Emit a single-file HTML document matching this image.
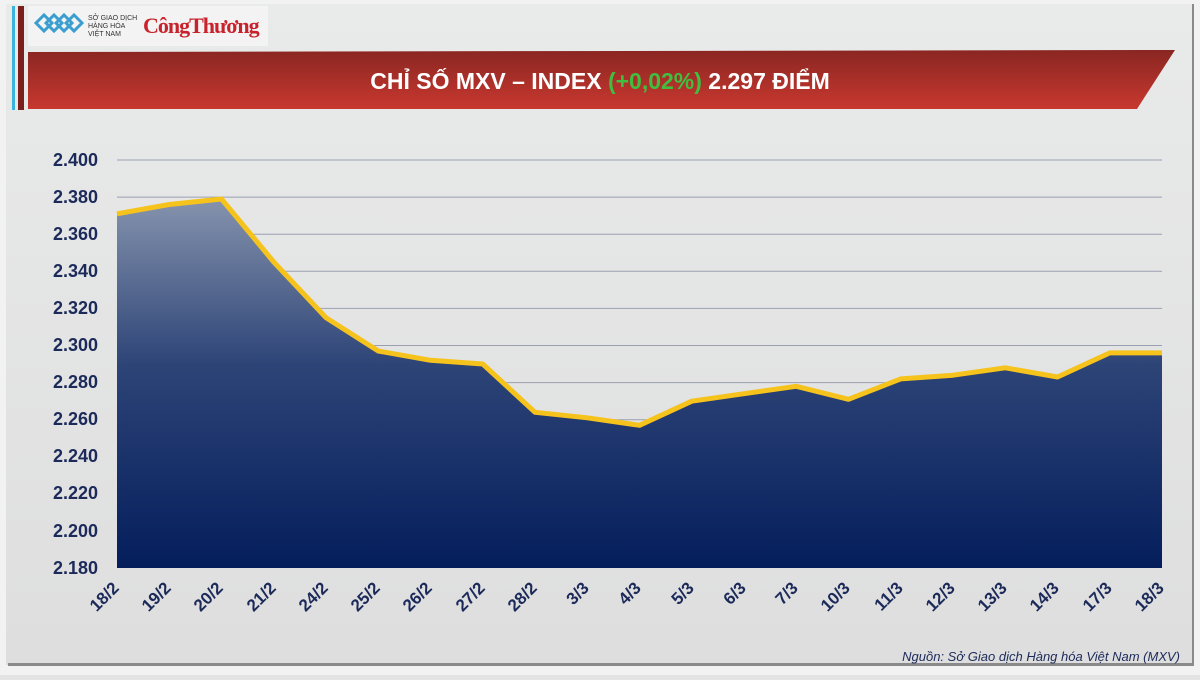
<!DOCTYPE html>
<html><head><meta charset="utf-8"><style>
body{margin:0;width:1200px;height:675px;overflow:hidden;background:#e4e4e4;font-family:"Liberation Sans","DejaVu Sans",sans-serif}
</style></head><body>
<svg width="1200" height="675" xmlns="http://www.w3.org/2000/svg">
<defs>
<linearGradient id="bg" x1="0" y1="0" x2="0" y2="1"><stop offset="0" stop-color="#e9eaea"/><stop offset="1" stop-color="#dedede"/></linearGradient>
<linearGradient id="red" x1="0" y1="0" x2="0" y2="1"><stop offset="0" stop-color="#8a2622"/><stop offset="1" stop-color="#c8382f"/></linearGradient>
<linearGradient id="area" x1="0" y1="0" x2="0" y2="1"><stop offset="0" stop-color="#8593ad"/><stop offset="0.45" stop-color="#2d4477"/><stop offset="1" stop-color="#041e5c"/></linearGradient>
</defs>
<rect width="1200" height="675" fill="#f2f2f2"/>
<rect x="6" y="4" width="1188" height="661" fill="url(#bg)"/>
<rect x="8" y="663" width="1186" height="3" fill="#8a8a8a"/>
<rect x="1192" y="4" width="2" height="661" fill="#8a8a8a"/>
<rect x="12" y="6" width="3" height="104" fill="#3bb3dd"/>
<rect x="18" y="6" width="6" height="104" fill="#7a1f1c"/>
<rect x="28" y="6" width="240" height="40" fill="#f3f3f3"/>
<g fill="none" stroke="#3a9fd0" stroke-width="3"><path d="M36 23 l8-8 8 8-8 8z M46 23 l8-8 8 8-8 8z M56 23 l8-8 8 8-8 8z M66 23 l8-8 8 8-8 8z"/></g>
<text x="88" y="20" font-size="7" fill="#333">SỞ GIAO DỊCH</text>
<text x="88" y="28" font-size="7" fill="#333">HÀNG HÓA</text>
<text x="88" y="36" font-size="7" fill="#333">VIỆT NAM</text>
<text x="143" y="33" font-size="22" fill="#c8232c" font-family="Liberation Serif,serif" font-weight="bold" letter-spacing="-1">CôngThương</text>
<polygon points="28,52 1175,50 1137,109 28,109" fill="url(#red)"/>
<text x="600" y="89" font-size="23" font-weight="bold" fill="#fff" text-anchor="middle">CHỈ SỐ MXV – INDEX <tspan fill="#3fbf3f">(+0,02%)</tspan> 2.297 ĐIỂM</text>
<g stroke="#9aa0b2" stroke-width="1">
<line x1="117" x2="1162" y1="160" y2="160"/><line x1="117" x2="1162" y1="197.1" y2="197.1"/><line x1="117" x2="1162" y1="234.2" y2="234.2"/><line x1="117" x2="1162" y1="271.3" y2="271.3"/><line x1="117" x2="1162" y1="308.4" y2="308.4"/><line x1="117" x2="1162" y1="345.5" y2="345.5"/><line x1="117" x2="1162" y1="382.6" y2="382.6"/><line x1="117" x2="1162" y1="419.7" y2="419.7"/><line x1="117" x2="1162" y1="456.8" y2="456.8"/><line x1="117" x2="1162" y1="493.9" y2="493.9"/><line x1="117" x2="1162" y1="531" y2="531"/>
</g>
<polygon fill="url(#area)" points="117,568 117,213.8 169.25,204.5 221.5,199 273.75,262 326,317.7 378.25,351 430.5,360.3 482.75,364 535,412.3 587.25,417.8 639.5,425.3 691.75,401.2 744,393.7 796.25,386.3 848.5,399.3 900.75,378.9 953,375.2 1005.25,367.8 1057.5,377 1109.75,352.9 1162,352.9 1162,568"/>
<polyline fill="none" stroke="#f6c21c" stroke-width="5" stroke-linejoin="round" points="117,213.8 169.25,204.5 221.5,199 273.75,262 326,317.7 378.25,351 430.5,360.3 482.75,364 535,412.3 587.25,417.8 639.5,425.3 691.75,401.2 744,393.7 796.25,386.3 848.5,399.3 900.75,378.9 953,375.2 1005.25,367.8 1057.5,377 1109.75,352.9 1162,352.9"/>
<g font-size="18" font-weight="bold" fill="#1c2a5a" text-anchor="end">
<text x="98" y="166">2.400</text><text x="98" y="203">2.380</text><text x="98" y="240">2.360</text><text x="98" y="277">2.340</text><text x="98" y="314">2.320</text><text x="98" y="351">2.300</text><text x="98" y="388">2.280</text><text x="98" y="425">2.260</text><text x="98" y="462">2.240</text><text x="98" y="499">2.220</text><text x="98" y="537">2.200</text><text x="98" y="574">2.180</text>
</g>
<g font-size="17" font-weight="bold" fill="#1c2a5a" text-anchor="end">
<text transform="translate(120,589) rotate(-45)">18/2</text><text transform="translate(172,589) rotate(-45)">19/2</text><text transform="translate(224,589) rotate(-45)">20/2</text><text transform="translate(277,589) rotate(-45)">21/2</text><text transform="translate(329,589) rotate(-45)">24/2</text><text transform="translate(381,589) rotate(-45)">25/2</text><text transform="translate(433,589) rotate(-45)">26/2</text><text transform="translate(486,589) rotate(-45)">27/2</text><text transform="translate(538,589) rotate(-45)">28/2</text><text transform="translate(590,589) rotate(-45)">3/3</text><text transform="translate(642,589) rotate(-45)">4/3</text><text transform="translate(695,589) rotate(-45)">5/3</text><text transform="translate(747,589) rotate(-45)">6/3</text><text transform="translate(799,589) rotate(-45)">7/3</text><text transform="translate(851,589) rotate(-45)">10/3</text><text transform="translate(904,589) rotate(-45)">11/3</text><text transform="translate(956,589) rotate(-45)">12/3</text><text transform="translate(1008,589) rotate(-45)">13/3</text><text transform="translate(1060,589) rotate(-45)">14/3</text><text transform="translate(1113,589) rotate(-45)">17/3</text><text transform="translate(1165,589) rotate(-45)">18/3</text>
</g>
<text x="1180" y="661" font-size="13" font-style="italic" fill="#1c2a5a" text-anchor="end">Nguồn: Sở Giao dịch Hàng hóa Việt Nam (MXV)</text>
</svg>
</body></html>
